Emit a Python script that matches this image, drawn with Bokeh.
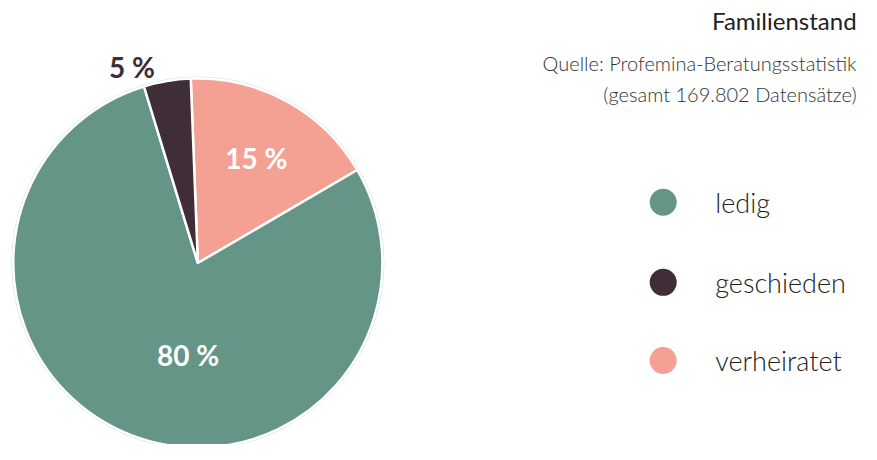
import math
from bokeh.plotting import figure
from bokeh.models import Range1d, ColumnDataSource
from bokeh.core.properties import value
from bokeh.embed import file_html
from bokeh.resources import INLINE

# ---- data ----
categories = ["ledig", "geschieden", "verheiratet"]
shares = [78.7, 4.1, 17.2]          # percent
share_labels = ["80 %", "5 %", "15 %"]
colors = ["#659587", "#3f2d38", "#f4a093"]
title_text = "Familienstand"
subtitle_lines = ["Quelle: Profemina-Beratungsstatistik", "(gesamt 169.802 Datensätze)"]

W, H = 861, 444
REF_W, REF_H = 877, 460
LIGHT = "Lato Light, Lato"

def py(page_y):
    return REF_H - page_y

p = figure(width=W, height=H, output_backend="svg", toolbar_location=None,
           x_range=Range1d(0, REF_W), y_range=Range1d(0, REF_H), min_border=0)
p.axis.visible = False
p.grid.visible = False
p.outline_line_color = None
p.background_fill_color = "white"
p.border_fill_color = "white"

cx, cy, r = 201, py(272), 188

# clockwise order around the pie starting just left of 12 o'clock
order = ["verheiratet", "ledig", "geschieden"]
start_deg = 92.2
starts, ends, cols, mids = [], [], [], {}
a = start_deg
for name in order:
    i = categories.index(name)
    span = shares[i] / sum(shares) * 360.0
    starts.append(math.radians(a - span))
    ends.append(math.radians(a))
    cols.append(colors[i])
    mids[name] = math.radians(a - span / 2)
    a -= span

src = ColumnDataSource(dict(x=[cx] * 3, y=[cy] * 3, s=starts, e=ends, c=cols))
p.circle(x=cx, y=cy, radius=r + 1.5, fill_color=None, line_color="#d5e2de", line_width=1)
p.wedge(x="x", y="y", radius=r, start_angle="s", end_angle="e", fill_color="c",
        line_color="white", line_width=2.5, source=src)

# slice labels
for name in categories:
    i = categories.index(name)
    ang = mids[name]
    if name == "ledig":
        lx, ly = 191, py(367)
    elif name == "verheiratet":
        lx, ly = cx + r * 0.66 * math.cos(ang), cy + r * 0.66 * math.sin(ang)
    else:
        lx, ly = 134, py(69)
    p.text(x=[lx], y=[ly], text=[share_labels[i]], text_align="center", text_baseline="middle",
           text_font=value("Lato"), text_font_style="bold", text_font_size="28px",
           text_color="white" if name != "geschieden" else colors[i])

# title & subtitle
p.text(x=[872], y=[py(21)], text=[title_text], text_align="right", text_baseline="middle",
       text_font=value("Lato"), text_font_size="24px", text_color="#222222")
for k, line in enumerate(subtitle_lines):
    p.text(x=[872], y=[py(65 + 32 * k)], text=[line], text_align="right", text_baseline="middle",
           text_font=value(LIGHT), text_font_size="20px", text_color="#333333")

# legend
leg_y = [209, 292, 373]
p.scatter(x=[675] * 3, y=[py(v) for v in leg_y], size=27, fill_color=colors, line_color=None)
p.text(x=[728] * 3, y=[py(v) for v in leg_y], text=categories, text_align="left",
       text_baseline="middle", text_font=value(LIGHT), text_font_size="27px",
       text_color="#222222")

open("out.html", "w").write(file_html(p, INLINE))
